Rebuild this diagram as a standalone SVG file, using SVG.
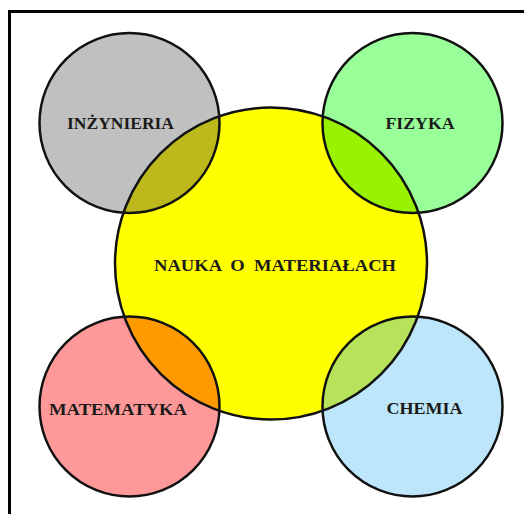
<svg xmlns="http://www.w3.org/2000/svg" width="524" height="514" viewBox="0 0 524 514">
  <style>
    .ring { fill: none; stroke: #111; stroke-width: 2.5; }
    .lbl { font-family: "Liberation Serif", "Times New Roman", serif; font-weight: bold; font-size: 17px; fill: #1a1a1a; text-anchor: middle; }
  </style>
  <defs>
    <clipPath id="clipInz"><circle cx="129.5" cy="123" r="90"/></clipPath>
    <clipPath id="clipFiz"><circle cx="412.5" cy="123" r="90"/></clipPath>
    <clipPath id="clipMat"><circle cx="129.5" cy="406.5" r="90"/></clipPath>
    <clipPath id="clipChe"><circle cx="412.5" cy="406.5" r="90"/></clipPath>
  </defs>
  <rect width="524" height="514" fill="#ffffff"/>
  <path d="M9.5,514 V11.5 H524" fill="none" stroke="#000" stroke-width="3"/>

  <g id="fills">
    <circle cx="129.5" cy="123" r="90" fill="#c0c0c0"/>
    <circle cx="412.5" cy="123" r="90" fill="#99ff99"/>
    <circle cx="129.5" cy="406.5" r="90" fill="#ff9999"/>
    <circle cx="412.5" cy="406.5" r="90" fill="#bde6fb"/>
    <circle cx="271" cy="263.5" r="156" fill="#ffff00"/>
    <circle cx="271" cy="263.5" r="156" fill="#bdb91c" clip-path="url(#clipInz)"/>
    <circle cx="271" cy="263.5" r="156" fill="#99f200" clip-path="url(#clipFiz)"/>
    <circle cx="271" cy="263.5" r="156" fill="#ff9900" clip-path="url(#clipMat)"/>
    <circle cx="271" cy="263.5" r="156" fill="#b7e35a" clip-path="url(#clipChe)"/>
  </g>

  <g id="node-nauka">
    <circle class="ring" cx="271" cy="263.5" r="156"/>
    <text class="lbl" x="275" y="271" textLength="242" lengthAdjust="spacingAndGlyphs" xml:space="preserve">NAUKA  O  MATERIAŁACH</text>
  </g>
  <g id="node-inzynieria">
    <circle class="ring" cx="129.5" cy="123" r="90"/>
    <text class="lbl" x="120.5" y="128.5" textLength="107" lengthAdjust="spacingAndGlyphs">INŻYNIERIA</text>
  </g>
  <g id="node-fizyka">
    <circle class="ring" cx="412.5" cy="123" r="90"/>
    <text class="lbl" x="420" y="128.5" textLength="69" lengthAdjust="spacingAndGlyphs">FIZYKA</text>
  </g>
  <g id="node-matematyka">
    <circle class="ring" cx="129.5" cy="406.5" r="90"/>
    <text class="lbl" x="118" y="414.5" textLength="138" lengthAdjust="spacingAndGlyphs">MATEMATYKA</text>
  </g>
  <g id="node-chemia">
    <circle class="ring" cx="412.5" cy="406.5" r="90"/>
    <text class="lbl" x="424.5" y="414" textLength="76" lengthAdjust="spacingAndGlyphs">CHEMIA</text>
  </g>
  <g id="connectors"></g>
</svg>
